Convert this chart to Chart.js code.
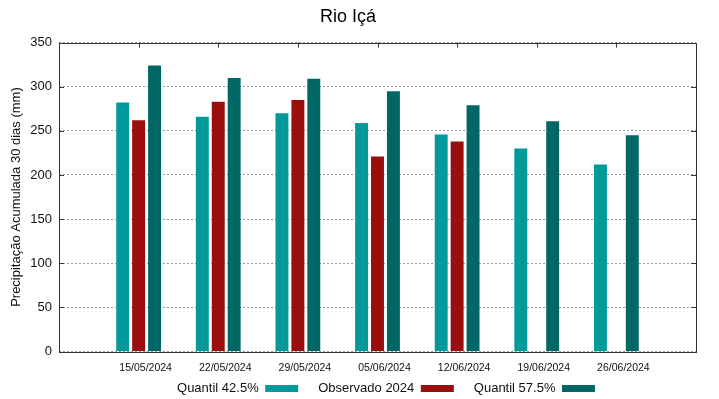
<!DOCTYPE html>
<html>
<head>
<meta charset="utf-8">
<script src="https://cdn.jsdelivr.net/npm/chart.js@4/dist/chart.umd.min.js"></script>
<style>
  html, body { margin: 0; padding: 0; background: #fff; }
  #wrap { width: 719px; height: 399px; }
</style>
</head>
<body>
<div id="wrap"><canvas id="grafico" width="719" height="399"></canvas></div>
<script>
// datas da semana (eixo x)
const datas = ['15/05/2024', '22/05/2024', '29/05/2024', '05/06/2024', '12/06/2024', '19/06/2024', '26/06/2024'];
// precipitacao acumulada 30 dias (mm)
const quantil425 = [282, 266, 270, 259, 246, 230, 212];
const observado = [262, 283, 285, 221, 238, null, null];
const quantil575 = [324, 310, 309, 295, 279, 261, 245];
const yTicks = [0, 50, 100, 150, 200, 250, 300, 350];

// uma posicao vazia em cada ponta, como no gnuplot
const pad = arr => [null, ...arr, null];
const labels = ['', ...datas, ''];

Chart.defaults.font.family = "'Liberation Sans', Arial, sans-serif";
Chart.defaults.color = '#111';

// moldura do grafico com os tracinhos para dentro
const moldura = {
  id: 'moldura',
  afterLayout(chart) {
    // legenda no lugar do original
    const lg = chart.legend;
    lg.left += 38; lg.right += 38;
    lg.top -= 15.5; lg.bottom -= 15.5;
  },
  afterDatasetsDraw(chart) {
    const a = chart.chartArea, ctx = chart.ctx;
    const x = chart.scales.x, y = chart.scales.y;
    ctx.save();
    ctx.strokeStyle = '#333';
    ctx.lineWidth = 1;
    ctx.beginPath();
    for (const v of yTicks.slice(1, -1)) {
      const py = Math.round(y.getPixelForValue(v)) + 0.5;
      ctx.moveTo(a.left, py); ctx.lineTo(a.left + 5, py);
      ctx.moveTo(a.right, py); ctx.lineTo(a.right - 5, py);
    }
    for (let i = 1; i <= datas.length; i++) {
      const px = Math.round(x.getPixelForValue(i)) + 0.5;
      ctx.moveTo(px, a.top); ctx.lineTo(px, a.top + 5);
    }
    ctx.stroke();
    ctx.strokeRect(Math.round(a.left) + 0.5, Math.round(a.top) + 0.5,
      Math.round(a.right - a.left), Math.round(a.bottom - a.top));
    ctx.restore();
  }
};

new Chart('grafico', {
  type: 'bar',
  data: {
    labels: labels,
    datasets: [
      { label: 'Quantil 42.5%', data: pad(quantil425), backgroundColor: '#009a9a' },
      { label: 'Observado 2024', data: pad(observado), backgroundColor: '#9a0e0e' },
      { label: 'Quantil 57.5%', data: pad(quantil575), backgroundColor: '#006766' }
    ]
  },
  options: {
    responsive: false,
    animation: false,
    layout: { padding: { left: 0, right: 23, top: 0, bottom: -21.5 } },
    datasets: { bar: { categoryPercentage: 0.6, barPercentage: 0.8125 } },
    plugins: {
      title: {
        display: true,
        text: 'Rio Içá',
        color: '#000',
        font: { size: 18, weight: 'normal' },
        padding: { top: 6, bottom: 15 }
      },
      legend: {
        position: 'bottom',
        rtl: true,
        textDirection: 'ltr',
        reverse: true,
        labels: {
          boxWidth: 33,
          boxHeight: 7,
          padding: 20,
          color: '#111',
          font: { size: 13 }
        }
      },
      tooltip: { enabled: false }
    },
    scales: {
      x: {
        offset: false,
        grid: { display: false, drawTicks: false },
        border: { display: false },
        ticks: { font: { size: 10.5 }, padding: 10, labelOffset: 7, maxRotation: 0, autoSkip: false, color: '#111' },
        afterFit: s => { s.height = 26; }
      },
      y: {
        min: 0,
        max: 350,
        afterBuildTicks: s => { s.ticks = yTicks.map(v => ({ value: v })); },
        grid: { color: '#999', drawTicks: false },
        border: { display: false, dash: [2, 2] },
        ticks: { font: { size: 13 }, padding: 7, color: '#111' },
        title: {
          display: true,
          text: 'Precipitação Acumulada 30 dias (mm)',
          font: { size: 13 },
          color: '#111',
          padding: { top: 9, bottom: 0 }
        },
        afterFit: s => { s.width = 59; }
      }
    }
  },
  plugins: [moldura]
});
</script>
</body>
</html>
